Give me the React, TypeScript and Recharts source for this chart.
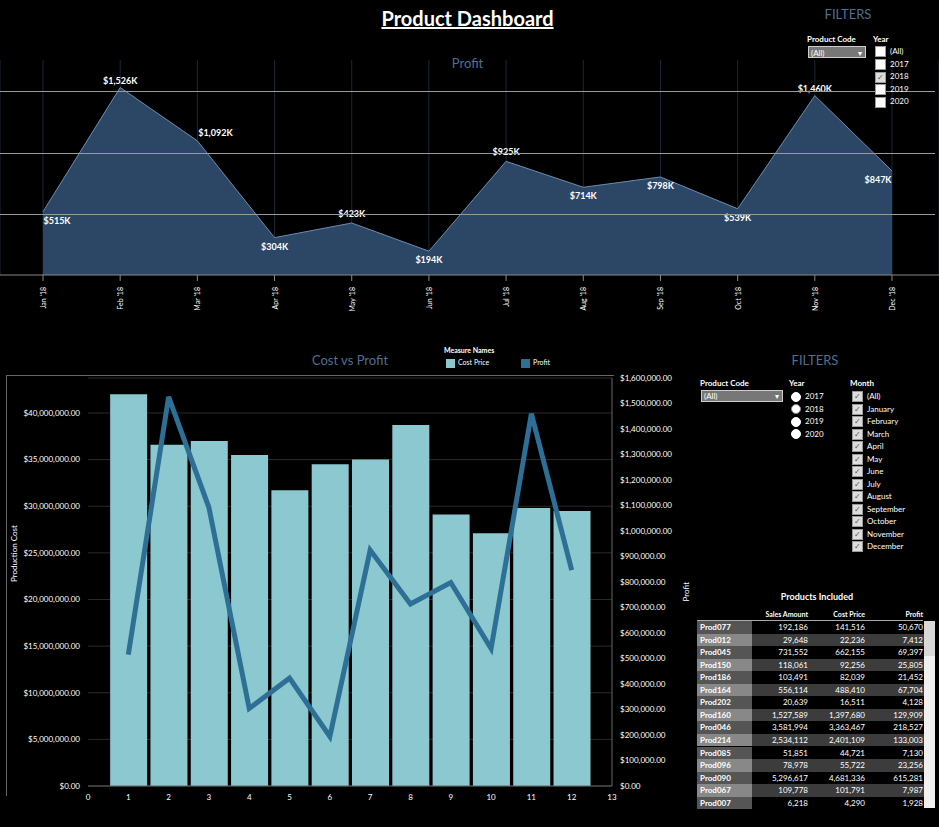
import React from 'react';
import { AreaChart, Area, XAxis, YAxis, CartesianGrid, LabelList, ComposedChart, Bar, Line } from 'recharts';

const months = ["Jan '18", "Feb '18", "Mar '18", "Apr '18", "May '18", "Jun '18", "Jul '18", "Aug '18", "Sep '18", "Oct '18", "Nov '18", "Dec '18"];
const profit = [515000, 1526000, 1092000, 304000, 423000, 194000, 925000, 714000, 798000, 539000, 1460000, 847000];
const monthNums = [1, 2, 3, 4, 5, 6, 7, 8, 9, 10, 11, 12];
const costPrice = [42000000, 36600000, 37000000, 35500000, 31700000, 34500000, 35000000, 38700000, 29100000, 27100000, 29800000, 29500000];
const leftTicks = [0, 5e6, 10e6, 15e6, 20e6, 25e6, 30e6, 35e6, 40e6];
const rightTicks = Array.from({ length: 17 }, (_, i) => i * 100000);
const xTicks = [0, 1, 2, 3, 4, 5, 6, 7, 8, 9, 10, 11, 12, 13];

const tblProducts = ['Prod077', 'Prod012', 'Prod045', 'Prod150', 'Prod186', 'Prod164', 'Prod202', 'Prod160', 'Prod046', 'Prod214', 'Prod085', 'Prod096', 'Prod090', 'Prod067', 'Prod007'];
const tblSales = ['192,186', '29,648', '731,552', '118,061', '103,491', '556,114', '20,639', '1,527,589', '3,581,994', '2,534,112', '51,851', '78,978', '5,296,617', '109,778', '6,218'];
const tblCost = ['141,516', '22,236', '662,155', '92,256', '82,039', '488,410', '16,511', '1,397,680', '3,363,467', '2,401,109', '44,721', '55,722', '4,681,336', '101,791', '4,290'];
const tblProfit = ['50,670', '7,412', '69,397', '25,805', '21,452', '67,704', '4,128', '129,909', '218,527', '133,003', '7,130', '23,256', '615,281', '7,987', '1,928'];
const monthNames = ['(All)', 'January', 'February', 'March', 'April', 'May', 'June', 'July', 'August', 'September', 'October', 'November', 'December'];

const topData = months.map((m, i) => ({ m, profit: profit[i] }));
const botData = monthNums.map((n, i) => ({ n, cost: costPrice[i], profit: profit[i] }));

const F = 'Lato, "Open Sans", sans-serif';
const blueTitle = '#4f6f94';
const fmtK = (v: number) => '$' + Math.round(v / 1000).toLocaleString('en-US') + 'K';
const fmtD = (v: number) => '$' + v.toLocaleString('en-US', { minimumFractionDigits: 2, maximumFractionDigits: 2 });

const abs = (l: number, t: number, extra: any = {}) => ({ position: 'absolute' as const, left: l, top: t, ...extra });

const Check = ({ checked }: { checked: boolean }) => (
  <span style={{ display: 'inline-block', width: 9, height: 9, background: checked ? '#ddd' : '#fff', border: '1px solid #999', fontSize: 8, lineHeight: '9px', color: '#555', textAlign: 'center', marginRight: 4, verticalAlign: 'middle' }}>{checked ? '✓' : ''}</span>
);
const Radio = ({ on }: { on: boolean }) => (
  <span style={{ display: 'inline-block', width: 8, height: 8, borderRadius: 5, background: '#fff', border: on ? '1px solid #888' : '1px solid #fff', marginRight: 4, verticalAlign: 'middle', boxSizing: 'content-box' }} />
);

const TopLabel = (props: any) => {
  const { x, y, value, index } = props;
  const below = [0, 3, 5, 8, 9, 11].includes(index) || index === 7;
  const dy = index === 1 || index === 10 ? -4 : index === 2 ? -5 : index === 4 || index === 6 ? -6 : below ? 12 : -5;
  let dx = 0;
  if (index === 0) dx = 14;
  if (index === 11) dx = -14;
  if (index === 2) dx = 18;
  return <text x={x + dx} y={y + dy} fill="#fff" fontSize={9} fontWeight={700} textAnchor="middle" fontFamily={F}>{fmtK(value)}</text>;
};

const RotTick = (props: any) => {
  const { x, y, payload } = props;
  return <text x={x} y={y + 4} transform={`rotate(-90 ${x} ${y + 4})`} textAnchor="end" dominantBaseline="central" fill="#fff" fontSize={7} fontFamily={F}>{payload.value}</text>;
};

export default function App() {
  return (
    <div style={{ position: 'absolute', left: 0, top: 0, width: 939, height: 827, background: '#000', fontFamily: F, color: '#fff', overflow: 'hidden' }}>
      <div style={abs(0, 6, { width: 935, textAlign: 'center', fontSize: 20, fontWeight: 700, textDecoration: 'underline' })}>Product Dashboard</div>
      <div style={abs(0, 55, { width: 935, textAlign: 'center', fontSize: 13, color: blueTitle })}>Profit</div>

      <div style={abs(0, 60)}>
        <AreaChart width={939} height={255} data={topData} margin={{ top: 0, right: 0, bottom: 0, left: 0 }}>
          <CartesianGrid horizontal={false} stroke="#1a2738" />
          <YAxis hide domain={[0, 1750000]} ticks={[0, 500000, 1000000, 1500000]} />
          <Area dataKey="profit" type="linear" stroke="#6b8db3" strokeWidth={1} fill="#2c4766" fillOpacity={1} isAnimationActive={false}>
            <LabelList dataKey="profit" content={<TopLabel />} />
          </Area>
          <XAxis dataKey="m" padding={{ left: 43, right: 47 }} height={40} tick={<RotTick />} tickLine={{ stroke: '#888' }} axisLine={{ stroke: '#888' }} interval={0} />
        </AreaChart>
      </div>
      {[91, 153, 214].map((y) => <div key={y} style={abs(0, y, { width: 935, height: 1, background: '#999' })} />)}

      <div style={abs(808, 6, { fontSize: 13, color: blueTitle, width: 80, textAlign: 'center' })}>FILTERS</div>
      <div style={abs(807, 34, { fontSize: 8, fontWeight: 700 })}>Product Code</div>
      <div style={abs(808, 46, { width: 58, height: 12, background: '#777', border: '1px solid #ccc', fontSize: 8, lineHeight: '12px', paddingLeft: 2, boxSizing: 'border-box' })}>(All)<span style={{ float: 'right', marginRight: 3 }}>▾</span></div>
      <div style={abs(873, 34, { fontSize: 8, fontWeight: 700 })}>Year</div>
      {['(All)', '2017', '2018', '2019', '2020'].map((y, i) => (
        <div key={y} style={abs(875, 46 + i * 12.6, { fontSize: 8 })}><Check checked={y === '2018'} />{y}</div>
      ))}

      <div style={abs(290, 352, { fontSize: 13, color: blueTitle, width: 120, textAlign: 'center' })}>Cost vs Profit</div>
      <div style={abs(444, 346, { fontSize: 7, fontWeight: 700 })}>Measure Names</div>
      <div style={abs(446, 358, { fontSize: 7 })}><span style={{ display: 'inline-block', width: 9, height: 9, background: '#8cc8cf', marginRight: 3, verticalAlign: 'middle' }} />Cost Price</div>
      <div style={abs(521, 358, { fontSize: 7 })}><span style={{ display: 'inline-block', width: 9, height: 9, background: '#2e6f96', marginRight: 3, verticalAlign: 'middle' }} />Profit</div>

      <div style={abs(6, 375, { width: 608, height: 421, borderLeft: '1px solid #666', borderTop: '1px solid #666', boxSizing: 'border-box' })} />
      <div style={abs(0, 370)}>
        <ComposedChart width={700} height={440} data={botData} margin={{ top: 8, right: 10, bottom: 0, left: 10 }}>
          <CartesianGrid vertical={false} stroke="#2a2a2a" yAxisId="left" />
          <XAxis dataKey="n" type="number" domain={[0, 13]} ticks={xTicks} height={24} tick={{ fill: '#fff', fontSize: 8, fontFamily: F }} axisLine={{ stroke: '#666' }} tickLine={false} />
          <YAxis yAxisId="left" domain={[0, 43750000]} ticks={leftTicks} width={78} tickFormatter={fmtD} tick={{ fill: '#fff', fontSize: 8, fontFamily: F }} axisLine={false} tickLine={false}
            label={{ value: 'Production Cost', angle: -90, position: 'insideLeft', offset: 4, fill: '#fff', fontSize: 8, fontFamily: F }} />
          <YAxis yAxisId="right" orientation="right" domain={[0, 1600000]} ticks={rightTicks} width={78} tickFormatter={fmtD} tick={{ fill: '#fff', fontSize: 8, fontFamily: F }} axisLine={{ stroke: '#666' }} tickLine={false}
            label={{ value: 'Profit', angle: -90, position: 'insideRight', offset: 4, fill: '#fff', fontSize: 8, fontFamily: F }} />
          <Bar yAxisId="left" dataKey="cost" fill="#8cc8cf" barSize={37} isAnimationActive={false} />
          <Line yAxisId="right" dataKey="profit" type="linear" stroke="#2e6f96" strokeWidth={5} dot={false} isAnimationActive={false} />
        </ComposedChart>
      </div>

      <div style={abs(700, 352, { fontSize: 13, color: blueTitle, width: 230, textAlign: 'center' })}>FILTERS</div>
      <div style={abs(700, 378, { fontSize: 8, fontWeight: 700 })}>Product Code</div>
      <div style={abs(701, 390, { width: 82, height: 12, background: '#777', border: '1px solid #ccc', fontSize: 8, lineHeight: '11px', paddingLeft: 2, boxSizing: 'border-box' })}>(All)<span style={{ float: 'right', marginRight: 3 }}>▾</span></div>
      <div style={abs(789, 378, { fontSize: 8, fontWeight: 700 })}>Year</div>
      {['2017', '2018', '2019', '2020'].map((y, i) => (
        <div key={y} style={abs(791, 391 + i * 12.5, { fontSize: 8 })}><Radio on={y === '2018'} />{y}</div>
      ))}
      <div style={abs(850, 378, { fontSize: 8, fontWeight: 700 })}>Month</div>
      {monthNames.map((m, i) => (
        <div key={m} style={abs(852, 391 + i * 12.5, { fontSize: 8 })}><Check checked />{m}</div>
      ))}

      <div style={abs(697, 591, { width: 240, textAlign: 'center', fontSize: 9, fontWeight: 700 })}>Products Included</div>
      <div style={abs(697, 610, { fontSize: 7, fontWeight: 700, width: 226, height: 10 })}>
        <span style={abs(0, 0, { width: 111, textAlign: 'right' })}>Sales Amount</span>
        <span style={abs(0, 0, { width: 168, textAlign: 'right' })}>Cost Price</span>
        <span style={abs(0, 0, { width: 226, textAlign: 'right' })}>Profit</span>
      </div>
      <div style={abs(697, 620, { width: 226, height: 1, background: '#aaa' })} />
      <div style={abs(924, 621, { width: 11, height: 187, background: '#f0f0f0' })} />
      <div style={abs(924, 621, { width: 11, height: 35, background: '#d8d8d8' })} />
      {tblProducts.map((p, i) => (
        <div key={p} style={abs(697, 621 + i * 12.55, { width: 227, height: 12.55, fontSize: 8, lineHeight: '12.5px', background: i % 2 ? '#3c3c3c' : '#000' })}>
          <span style={abs(0, 0, { width: 55, height: 12.55, background: i % 2 ? '#888' : '#555', fontWeight: 700, paddingLeft: 3, boxSizing: 'border-box' })}>{p}</span>
          <span style={abs(0, 0, { width: 111, textAlign: 'right' })}>{tblSales[i]}</span>
          <span style={abs(0, 0, { width: 168, textAlign: 'right' })}>{tblCost[i]}</span>
          <span style={abs(0, 0, { width: 226, textAlign: 'right' })}>{tblProfit[i]}</span>
        </div>
      ))}
    </div>
  );
}
